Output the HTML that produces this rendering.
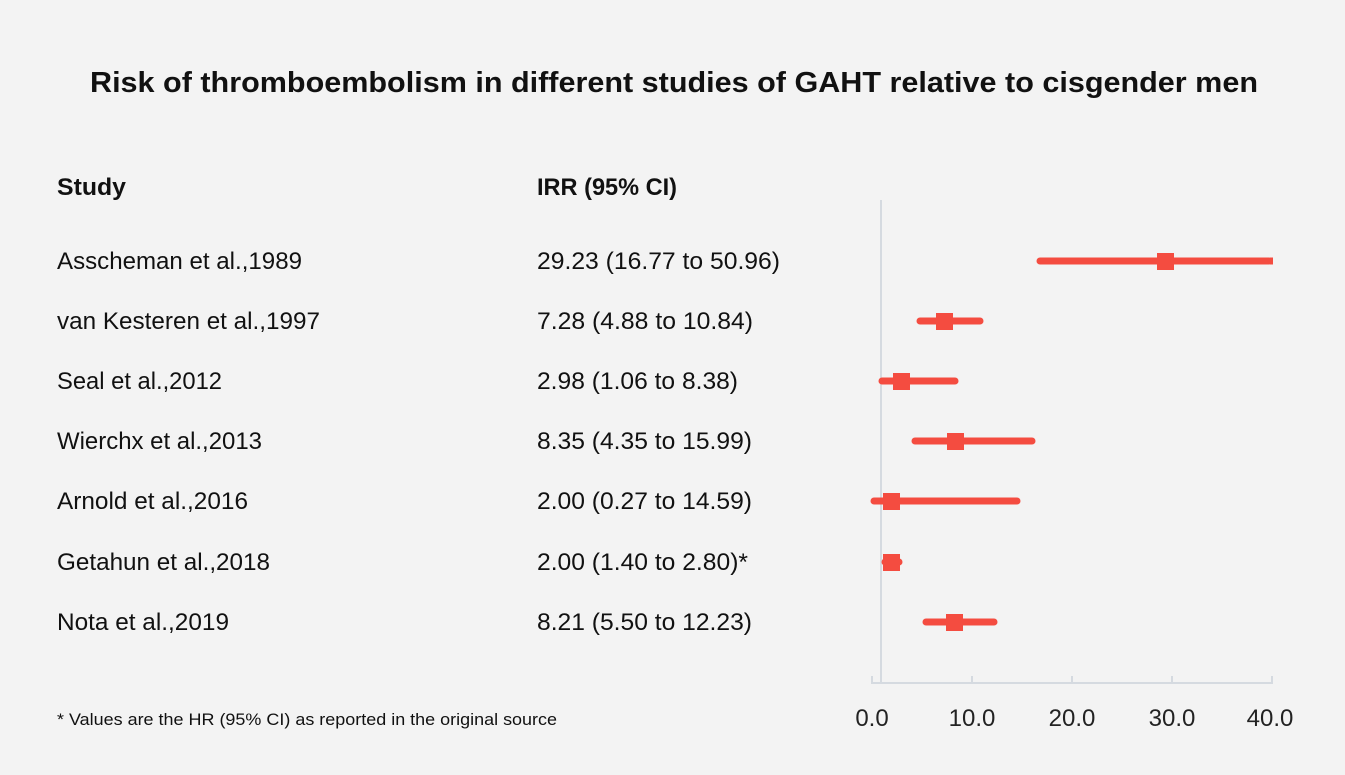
<!DOCTYPE html>
<html><head><meta charset="utf-8"><style>
body{margin:0;background:#f3f3f3;}
svg{display:block;font-family:"Liberation Sans",sans-serif;}
</style></head><body>
<svg width="1345" height="775" viewBox="0 0 1345 775">
<rect width="1345" height="775" fill="#f3f3f3"/>
<text x="90" y="92" font-size="29" font-weight="bold" fill="#111" textLength="1168" lengthAdjust="spacingAndGlyphs">Risk of thromboembolism in different studies of GAHT relative to cisgender men</text>
<g font-size="24" fill="#111">
<text x="57" y="195" font-weight="bold" textLength="69" lengthAdjust="spacingAndGlyphs">Study</text>
<text x="537" y="195" font-weight="bold" textLength="140" lengthAdjust="spacingAndGlyphs">IRR (95% CI)</text>
<text x="57" y="269" textLength="245" lengthAdjust="spacingAndGlyphs">Asscheman et al.,1989</text><text x="537" y="269" textLength="243" lengthAdjust="spacingAndGlyphs">29.23 (16.77 to 50.96)</text>
<text x="57" y="329" textLength="263" lengthAdjust="spacingAndGlyphs">van Kesteren et al.,1997</text><text x="537" y="329" textLength="216" lengthAdjust="spacingAndGlyphs">7.28 (4.88 to 10.84)</text>
<text x="57" y="389" textLength="165" lengthAdjust="spacingAndGlyphs">Seal et al.,2012</text><text x="537" y="389" textLength="201" lengthAdjust="spacingAndGlyphs">2.98 (1.06 to 8.38)</text>
<text x="57" y="449" textLength="205" lengthAdjust="spacingAndGlyphs">Wierchx et al.,2013</text><text x="537" y="449" textLength="215" lengthAdjust="spacingAndGlyphs">8.35 (4.35 to 15.99)</text>
<text x="57" y="509" textLength="191" lengthAdjust="spacingAndGlyphs">Arnold et al.,2016</text><text x="537" y="509" textLength="215" lengthAdjust="spacingAndGlyphs">2.00 (0.27 to 14.59)</text>
<text x="57" y="570" textLength="213" lengthAdjust="spacingAndGlyphs">Getahun et al.,2018</text><text x="537" y="570" textLength="211" lengthAdjust="spacingAndGlyphs">2.00 (1.40 to 2.80)*</text>
<text x="57" y="630" textLength="172" lengthAdjust="spacingAndGlyphs">Nota et al.,2019</text><text x="537" y="630" textLength="215" lengthAdjust="spacingAndGlyphs">8.21 (5.50 to 12.23)</text>
</g>
<text x="57" y="725" font-size="17" fill="#111" textLength="500" lengthAdjust="spacingAndGlyphs">* Values are the HR (95% CI) as reported in the original source</text>
<g stroke="#d5dae0" stroke-width="2" fill="none">
<line x1="881" y1="200" x2="881" y2="683"/>
<line x1="871" y1="683" x2="1273" y2="683"/>
<line x1="872" y1="676" x2="872" y2="683"/><line x1="972" y1="676" x2="972" y2="683"/><line x1="1072" y1="676" x2="1072" y2="683"/><line x1="1172" y1="676" x2="1172" y2="683"/><line x1="1272" y1="676" x2="1272" y2="683"/>
</g>
<g font-size="24" fill="#222" text-anchor="middle">
<text x="872" y="726">0.0</text><text x="972" y="726">10.0</text><text x="1072" y="726">20.0</text><text x="1172" y="726">30.0</text><text x="1270" y="726">40.0</text>
</g>
<g stroke="#f44c40" stroke-width="7" stroke-linecap="round" fill="#f44c40">
<line x1="1040" y1="261" x2="1269" y2="261"/><rect x="1270" y="257.5" width="3" height="7" stroke="none"/>
<line x1="920" y1="321" x2="980" y2="321"/>
<line x1="882" y1="381" x2="955" y2="381"/>
<line x1="915" y1="441" x2="1032" y2="441"/>
<line x1="874" y1="501" x2="1017" y2="501"/>
<line x1="885" y1="562" x2="899" y2="562"/>
<line x1="926" y1="622" x2="994" y2="622"/>
</g>
<g fill="#f44c40">
<rect x="1157" y="253" width="17" height="17"/>
<rect x="936" y="313" width="17" height="17"/>
<rect x="893" y="373" width="17" height="17"/>
<rect x="947" y="433" width="17" height="17"/>
<rect x="883" y="493" width="17" height="17"/>
<rect x="883" y="554" width="17" height="17"/>
<rect x="946" y="614" width="17" height="17"/>
</g>
</svg>
</body></html>
